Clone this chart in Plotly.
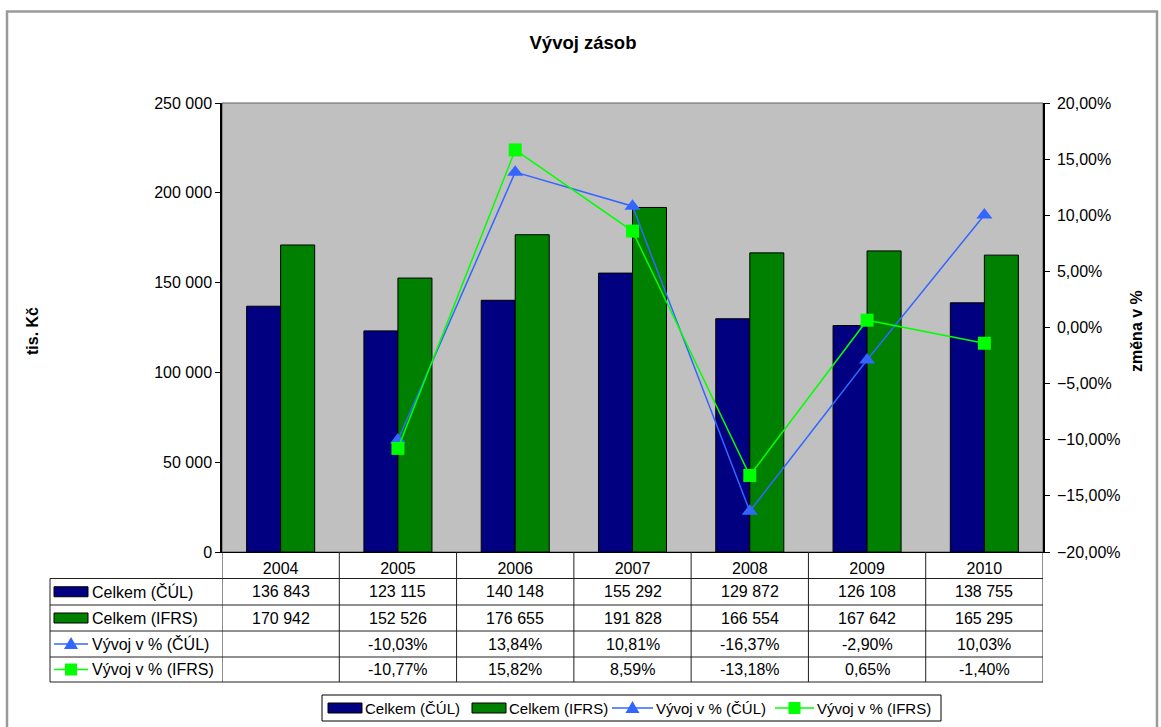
import plotly.graph_objects as go

# ---------------- data ----------------
years = ["2004", "2005", "2006", "2007", "2008", "2009", "2010"]
celkem_cul = [136843, 123115, 140148, 155292, 129872, 126108, 138755]
celkem_ifrs = [170942, 152526, 176655, 191828, 166554, 167642, 165295]
vyvoj_cul = [None, -10.03, 13.84, 10.81, -16.37, -2.90, 10.03]
vyvoj_ifrs = [None, -10.77, 15.82, 8.59, -13.18, 0.65, -1.40]
series_names = ["Celkem (ČÚL)", "Celkem (IFRS)", "Vývoj v % (ČÚL)", "Vývoj v % (IFRS)"]

# ---------------- style ----------------
W, H = 1161, 727
FONT = "Arial, Liberation Sans, sans-serif"
NAVY, GREEN = "#000080", "#008000"
LBLUE, LGREEN = "#3366FF", "#00FF00"
FS = 16
LEG_FS = 15

def px_x(p):
    return p / W

def px_y(p):
    return (H - p) / H

PLOT_L, PLOT_R, PLOT_T, PLOT_B = 222, 1043, 103, 552
TABLE_LEFT = 50
row_lines = [PLOT_B, 578.5, 605, 631, 657, 682]
row_centers = [(row_lines[i] + row_lines[i + 1]) / 2 for i in range(1, 5)]

def fmt_num(v):
    return f"{v:,}".replace(",", " ")

def fmt_pct(v):
    return "" if v is None else f"{v:.2f}%".replace(".", ",")

fig = go.Figure()
fig.add_trace(go.Bar(x=years, y=celkem_cul, name=series_names[0], marker=dict(color=NAVY, line=dict(color="black", width=1))))
fig.add_trace(go.Bar(x=years, y=celkem_ifrs, name=series_names[1], marker=dict(color=GREEN, line=dict(color="black", width=1))))
fig.add_trace(go.Scatter(x=years, y=vyvoj_cul, name=series_names[2], yaxis="y2", mode="lines+markers",
                         line=dict(color=LBLUE, width=1.5), marker=dict(symbol="triangle-up", size=14, color=LBLUE)))
fig.add_trace(go.Scatter(x=years, y=vyvoj_ifrs, name=series_names[3], yaxis="y2", mode="lines+markers",
                         line=dict(color=LGREEN, width=1.5), marker=dict(symbol="square", size=13, color=LGREEN)))

shapes = []
annotations = []

# outer chart border
shapes.append(dict(type="rect", xref="paper", yref="paper", x0=px_x(7), x1=px_x(1157), y0=px_y(740), y1=px_y(11.5),
                   line=dict(color="#9a9a9a", width=2.5), fillcolor="rgba(0,0,0,0)", layer="below"))
# plot area border
shapes.append(dict(type="rect", xref="x domain", yref="y domain", x0=0, x1=1, y0=0, y1=1,
                   line=dict(color="#606060", width=1), layer="below"))

# data table grid
for yy in row_lines[1:]:
    shapes.append(dict(type="line", xref="paper", yref="paper", x0=px_x(TABLE_LEFT), x1=px_x(PLOT_R),
                       y0=px_y(yy), y1=px_y(yy), line=dict(color="#202020", width=1)))
shapes.append(dict(type="line", xref="paper", yref="paper", x0=px_x(TABLE_LEFT), x1=px_x(TABLE_LEFT),
                   y0=px_y(row_lines[1]), y1=px_y(row_lines[-1]), line=dict(color="#202020", width=1)))
for k in range(len(years) + 1):
    shapes.append(dict(type="line", xref="x", yref="paper", x0=k - 0.5, x1=k - 0.5,
                       y0=px_y(PLOT_B), y1=px_y(row_lines[-1]), line=dict(color="#202020", width=1)))


def add_key(kind, x0, x1, yc):
    xc = (x0 + x1) / 2
    if kind in (0, 1):
        col = [NAVY, GREEN][kind]
        shapes.append(dict(type="rect", xref="paper", yref="paper", x0=px_x(x0), x1=px_x(x1),
                           y0=px_y(yc + 5), y1=px_y(yc - 5), fillcolor=col, line=dict(color="black", width=1)))
    elif kind == 2:
        shapes.append(dict(type="line", xref="paper", yref="paper", x0=px_x(x0), x1=px_x(x1),
                           y0=px_y(yc), y1=px_y(yc), line=dict(color=LBLUE, width=1.5)))
        shapes.append(dict(type="path", xref="paper", yref="paper",
                           path=f"M {px_x(xc-7)},{px_y(yc+5)} L {px_x(xc+7)},{px_y(yc+5)} L {px_x(xc)},{px_y(yc-7)} Z",
                           fillcolor=LBLUE, line=dict(color=LBLUE, width=0)))
    else:
        shapes.append(dict(type="line", xref="paper", yref="paper", x0=px_x(x0), x1=px_x(x1),
                           y0=px_y(yc), y1=px_y(yc), line=dict(color=LGREEN, width=1.5)))
        shapes.append(dict(type="rect", xref="paper", yref="paper", x0=px_x(xc - 6), x1=px_x(xc + 6),
                           y0=px_y(yc + 6), y1=px_y(yc - 6), fillcolor=LGREEN, line=dict(color=LGREEN, width=0)))


# table keys + texts
rows = [
    [fmt_num(v) for v in celkem_cul],
    [fmt_num(v) for v in celkem_ifrs],
    [fmt_pct(v) for v in vyvoj_cul],
    [fmt_pct(v) for v in vyvoj_ifrs],
]
for r, (name, vals) in enumerate(zip(series_names, rows)):
    add_key(r, 54, 88, row_centers[r])
    annotations.append(dict(xref="paper", yref="paper", x=px_x(90), y=px_y(row_centers[r]), text=name,
                            showarrow=False, xanchor="left", yanchor="middle", font=dict(size=FS, color="black")))
    for i, t in enumerate(vals):
        if t:
            annotations.append(dict(xref="x", yref="paper", x=i, y=px_y(row_centers[r]), text=t,
                                    showarrow=False, xanchor="center", yanchor="middle",
                                    font=dict(size=FS, color="black")))

# bottom legend (drawn like the original chart legend)
LEG_Y = 708
shapes.append(dict(type="rect", xref="paper", yref="paper", x0=px_x(322), x1=px_x(941),
                   y0=px_y(721), y1=px_y(695), fillcolor="white", line=dict(color="black", width=1)))
leg_keys = [(328, 362), (472, 506), (612, 653), (775, 814)]
for r, (k0, k1) in enumerate(leg_keys):
    add_key(r, k0, k1, LEG_Y)
    annotations.append(dict(xref="paper", yref="paper", x=px_x(k1 + 1), y=px_y(LEG_Y), text=series_names[r],
                            showarrow=False, xanchor="left", yanchor="middle", font=dict(size=LEG_FS, color="black")))

# axis titles
annotations.append(dict(xref="paper", yref="paper", x=px_x(32), y=px_y(331), text="<b>tis. Kč</b>", textangle=-90,
                        showarrow=False, xanchor="center", yanchor="middle", font=dict(size=FS, color="black")))
annotations.append(dict(xref="paper", yref="paper", x=px_x(1136), y=px_y(331), text="<b>změna v %</b>", textangle=-90,
                        showarrow=False, xanchor="center", yanchor="middle", font=dict(size=FS, color="black")))

fig.update_layout(
    width=W, height=H,
    margin=dict(l=0, r=0, t=0, b=0, autoexpand=False),
    paper_bgcolor="white",
    plot_bgcolor="#C0C0C0",
    separators=", ",
    font=dict(family=FONT, size=FS, color="black"),
    title=dict(text="<b>Vývoj zásob</b>", x=px_x(583), xanchor="center", y=px_y(43), yanchor="middle",
               font=dict(size=18.5, family=FONT, color="black")),
    barmode="group", bargap=0.42, bargroupgap=0,
    xaxis=dict(domain=[px_x(PLOT_L), px_x(PLOT_R)], range=[-0.5, 6.5], type="category",
               showline=True, linecolor="black", linewidth=1, ticks="", showgrid=False,
               tickfont=dict(size=FS), ticklabelstandoff=2),
    yaxis=dict(domain=[px_y(PLOT_B), px_y(PLOT_T)], range=[0, 250000], dtick=50000, tickformat=",d",
               showline=True, linecolor="black", linewidth=1.5, ticks="outside", ticklen=5, tickcolor="black",
               showgrid=False, zeroline=False, tickfont=dict(size=FS)),
    yaxis2=dict(overlaying="y", side="right", range=[-20, 20], dtick=5, tickformat=".2f", ticksuffix="%",
                showline=True, linecolor="black", linewidth=1.5, ticks="outside", ticklen=5, tickcolor="black",
                showgrid=False, zeroline=False, tickfont=dict(size=FS), anchor="x", ticklabelstandoff=4),
    showlegend=False,
    shapes=shapes,
    annotations=annotations,
)

fig.write_html("out.html")
